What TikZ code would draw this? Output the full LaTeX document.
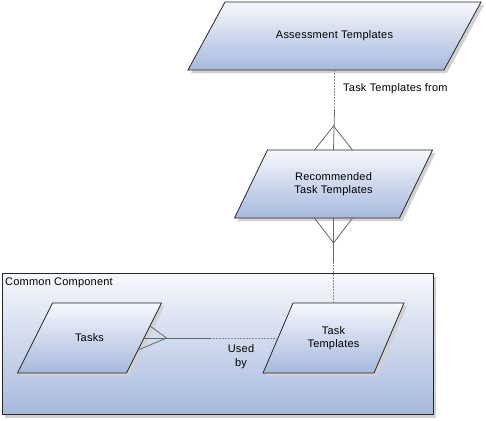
\documentclass[tikz,border=0pt]{standalone}
\usepackage{fontspec}
\setmainfont{Liberation Sans}[LetterSpace=2]
\usepackage{tikz}
\usetikzlibrary{shadows, calc, backgrounds}
\definecolor{BoxBlue}{HTML}{A6B9DD}
\definecolor{BoxTop}{HTML}{F6F8FC}
\tikzset{
    entity/.style={inner sep=0pt, outer sep=0pt, align=center, font=\fontsize{11}{13}\selectfont},
    entityfill/.style={draw=black!85, thick, top color=BoxTop, bottom color=BoxBlue,
        drop shadow={shadow xshift=3pt, shadow yshift=-3pt, fill=black!18, opacity=1}},
    link/.style={draw=black!60, line width=0.8pt},
    optlink/.style={draw=black!45, line width=1pt, dash pattern=on 1.5pt off 1.5pt}
}
% parallelogram behind a node: #1 node name, #2 half of the slant
\newcommand{\entityshape}[2]{%
    \path[entityfill] ($(#1.south west)+(-#2, 0)$) -- ($(#1.north west)+(#2, 0)$)
        -- ($(#1.north east)+(#2, 0)$) -- ($(#1.south east)+(-#2, 0)$) -- cycle;}
\begin{document}
\begin{tikzpicture}[x=1pt, y=-1pt]
        \useasboundingbox (0, 0) rectangle (486, 420);

        \node (cclabel) at (5, 283)[anchor=west, inner sep=0pt, font=\fontsize{11}{13}\selectfont] {Common Component};

        \node (assess) at (334.5, 36)[entity, minimum width=256pt, minimum height=68pt] {Assessment Templates};
        \node (rec) at (333.5, 184)[entity, minimum width=165pt, minimum height=68pt] {Recommended\\Task Templates};
        \node (tasks) at (89.5, 338)[entity, minimum width=109pt, minimum height=70pt] {Tasks};
        \node (tt) at (333.5, 338)[entity, minimum width=111pt, minimum height=70pt] {Task\\Templates};

        \begin{scope}[on background layer]
            % container
            \node (cc) at (217.5, 344)[draw=black!85, thick, minimum width=431pt, minimum height=141pt,
                top color=BoxTop, bottom color=BoxBlue,
                drop shadow={shadow xshift=3pt, shadow yshift=-3pt, fill=black!18, opacity=1}] {};
            \entityshape{assess}{18.5}
            \entityshape{rec}{16.5}
            \entityshape{tasks}{17.5}
            \entityshape{tt}{15}
        \end{scope}

        % assessment -- recommended
        \coordinate (m1) at ($(assess.south)+(0, 40)$);
        \draw[optlink] (assess.south) -- (m1);
        \draw[link] (m1) -- (rec.north);
        \draw[link] ($(rec.north)+(-19, 0)$) -- ($(rec.north)+(0, -24)$) -- ($(rec.north)+(19, 0)$);
        \node (l1) at (343, 89)[anchor=west, inner sep=0pt, font=\fontsize{11}{13}\selectfont] {Task Templates from};

        % recommended -- task templates
        \coordinate (m2) at ($(rec.south)+(0, 44)$);
        \draw[link] (rec.south) -- (m2);
        \draw[optlink] (m2) -- (tt.north);
        \draw[link] ($(rec.south)+(-19, 0)$) -- ($(rec.south)+(0, 25)$) -- ($(rec.south)+(19, 0)$);

        % tasks -- task templates
        \coordinate (m3) at (210, 338);
        \draw[link] (tasks.east) -- (m3);
        \draw[optlink] (m3) -- (tt.west);
        \draw[link] ($(tasks.east)+(6, -12)$) -- ($(tasks.east)+(22.5, 0)$) -- ($(tasks.east)+(-6, 12)$);
        \node (l2) at (241, 357)[align=center, inner sep=0pt, font=\fontsize{11}{14}\selectfont] {Used\\by};
    \end{tikzpicture}
\end{document}
